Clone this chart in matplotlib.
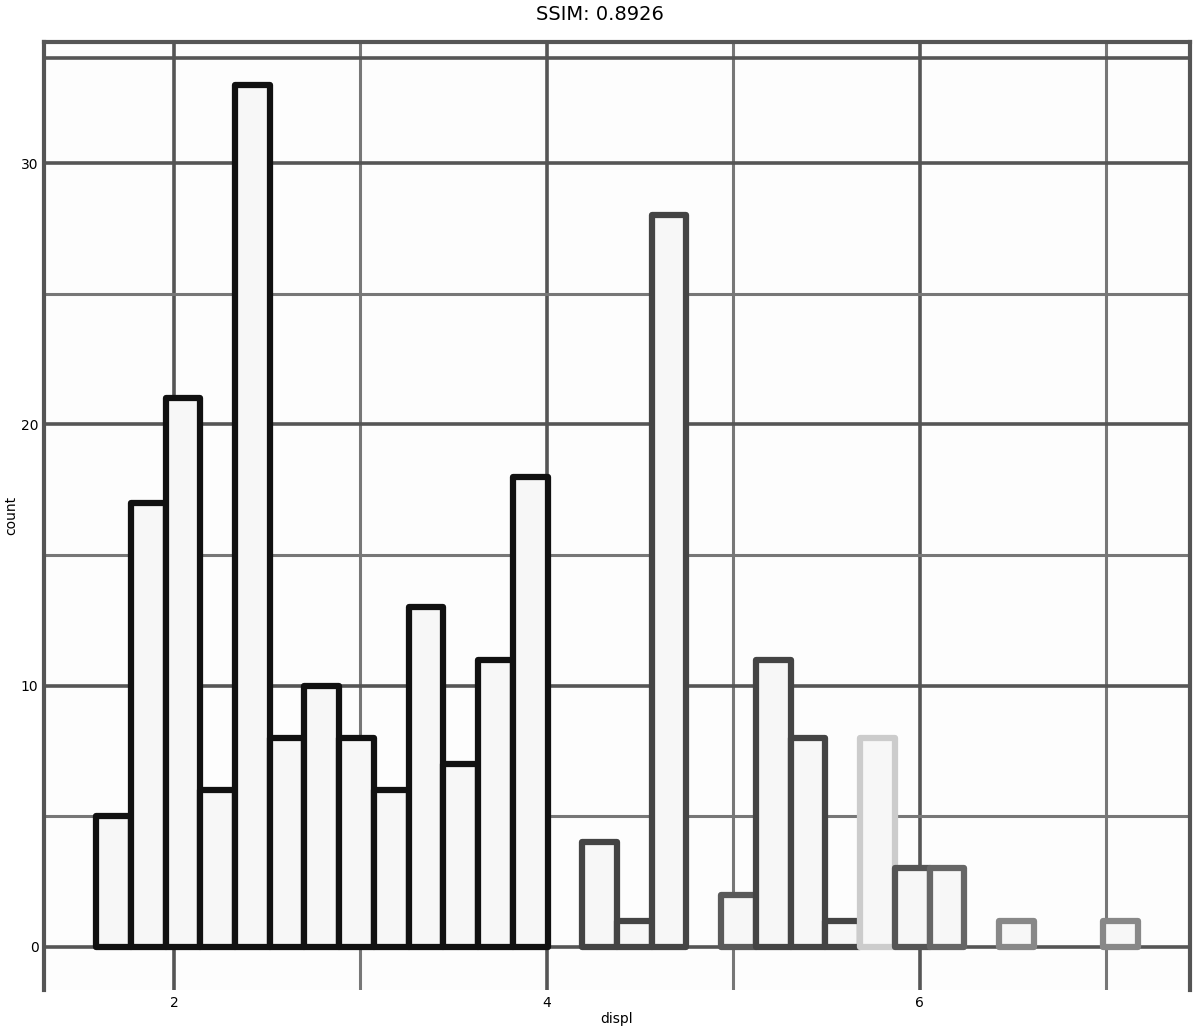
import numpy as np
import matplotlib
matplotlib.use("Agg")
from matplotlib import pyplot as plt

# histogram of displ (30 bins), counts
bin_start = 1.5828
bin_width = 0.18621
counts = [5, 17, 21, 6, 33, 8, 10, 8, 6, 13, 7, 11, 18, 0, 4,
          1, 28, 0, 2, 11, 8, 1, 8, 3, 3, 0, 1, 0, 0, 1]
x_ticks = [2, 4, 6]
x_minor = [3, 5, 7]
y_ticks = [0, 10, 20, 30]
y_minor = [5, 15, 25]

# outline shade per bar (style only)
edge_cols = (["#111111"] * 13 +
             ["#444444"] * 4 +
             ["#555555", "#5a5a5a", "#444444", "#444444", "#444444",
              "#cccccc", "#555555", "#666666", "#666666",
              "#888888", "#999999", "#888888", "#888888", "#999999"])

left = bin_start + bin_width * np.arange(len(counts))

fig = plt.figure(figsize=(12, 10.34), dpi=100)
ax = fig.add_axes([0.0367, 0.0426, 0.955, 0.917])
ax.set_facecolor("#fdfdfd")

for v in x_ticks:
    ax.axvline(v, color="#555555", lw=2.6, zorder=0)
for v in x_minor:
    ax.axvline(v, color="#777777", lw=2.2, zorder=0)
for v in y_ticks:
    ax.axhline(v, color="#555555", lw=2.6, zorder=0)
for v in y_minor:
    ax.axhline(v, color="#777777", lw=2.2, zorder=0)
# second line under the top border
ax.plot([0, 1], [0.983, 0.983], transform=ax.transAxes,
        color="#555555", lw=2.6, zorder=1)

for i in range(len(counts)):
    if counts[i] == 0:
        continue
    ax.bar(left[i], counts[i], width=bin_width, align="edge",
           color="#f7f7f7", edgecolor=edge_cols[i], linewidth=4.5,
           joinstyle="round", zorder=2)

xmin = bin_start - 0.05 * len(counts) * bin_width
xmax = bin_start + 1.05 * len(counts) * bin_width
ax.set_xlim(xmin, xmax)
ax.set_ylim(-0.05 * 33, 33 * 1.05)

ax.set_xticks(x_ticks)
ax.set_yticks(y_ticks)
ax.tick_params(length=0, labelsize=10, pad=4)
ax.set_xlabel("displ", fontsize=10, labelpad=2)
ax.set_ylabel("count", fontsize=10, labelpad=2)

for s in ["left", "top", "right"]:
    ax.spines[s].set_color("#555555")
    ax.spines[s].set_linewidth(3)
ax.spines["bottom"].set_visible(False)

fig.suptitle("SSIM: 0.8926", fontsize=14, y=0.995)
fig.savefig("out.png", dpi=100)
